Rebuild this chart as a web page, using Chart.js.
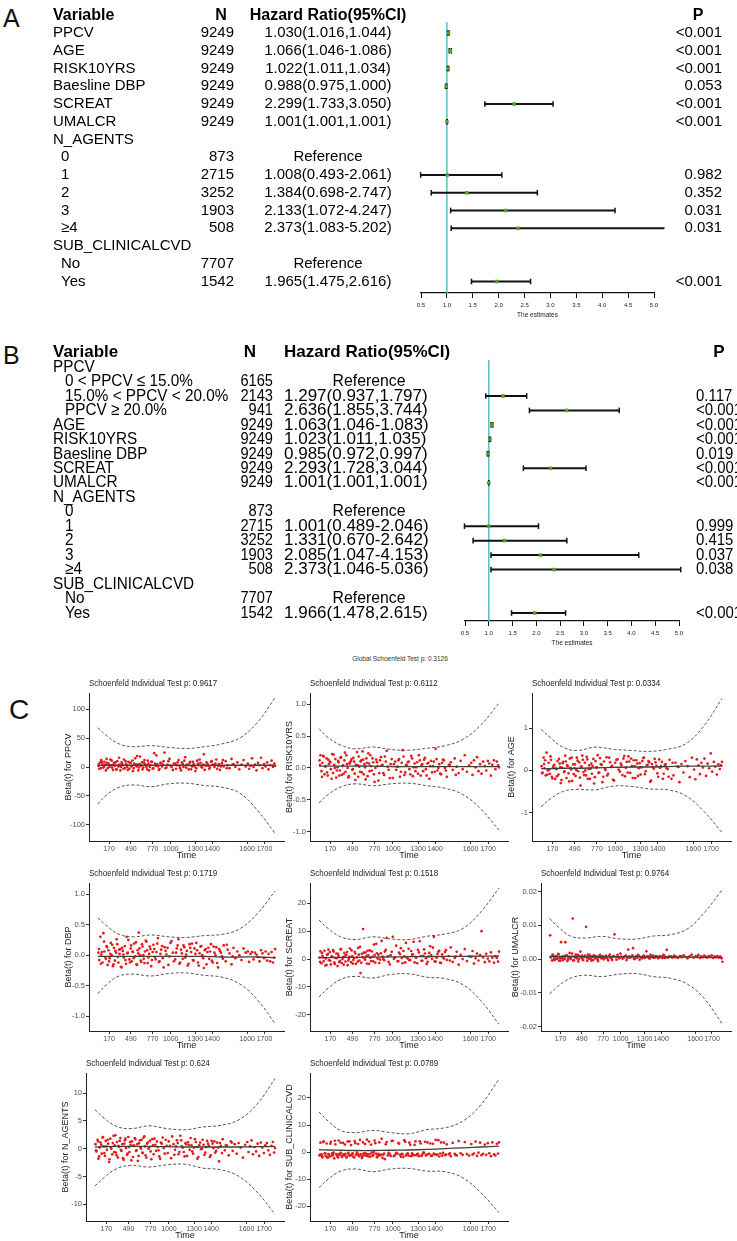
<!DOCTYPE html>
<html>
<head>
<meta charset="utf-8">
<script src="https://cdn.jsdelivr.net/npm/chart.js@4.4.1/dist/chart.umd.min.js"></script>
<style>
  body { margin: 0; background: #fff; width: 737px; height: 1241px; position: relative; overflow: hidden;
         font-family: 'Liberation Sans', Arial, sans-serif; color: #000; }
  canvas { position: absolute; }
  .panel { position: absolute; line-height: 1; color: #111; }
  .global { position: absolute; left: 300px; width: 200px; text-align: center; font-size: 6.5px; line-height: 1; color: #333; }
</style>
</head>
<body>
<div class="panel" style="left:3px;top:6px;font-size:25px">A</div>
<div class="panel" style="left:3px;top:343px;font-size:25px">B</div>
<div class="panel" style="left:9px;top:696px;font-size:28px">C</div>
<div class="global" style="top:656px">Global Schoenfeld Test p: 0.3126</div>

<canvas id="forestA" width="737" height="322" style="left:0;top:0"></canvas>
<canvas id="forestB" width="737" height="320" style="left:0;top:330px"></canvas>
<div id="resid"></div>

<script>
// ---------- Panel A: Cox model with continuous PPCV ----------
const varsA = ['PPCV', 'AGE', 'RISK10YRS', 'Baesline DBP', 'SCREAT', 'UMALCR', 'N_AGENTS', '0', '1', '2', '3', '≥4', 'SUB_CLINICALCVD', 'No', 'Yes'];
const levelA = [0, 0, 0, 0, 0, 0, 0, 1, 1, 1, 1, 1, 0, 1, 1];
const nA = ['9249', '9249', '9249', '9249', '9249', '9249', '', '873', '2715', '3252', '1903', '508', '', '7707', '1542'];
const hrTextA = ['1.030(1.016,1.044)', '1.066(1.046-1.086)', '1.022(1.011,1.034)', '0.988(0.975,1.000)', '2.299(1.733,3.050)',
  '1.001(1.001,1.001)', '', 'Reference', '1.008(0.493-2.061)', '1.384(0.698-2.747)', '2.133(1.072-4.247)',
  '2.373(1.083-5.202)', '', 'Reference', '1.965(1.475,2.616)'];
const pA = ['<0.001', '<0.001', '<0.001', '0.053', '<0.001', '<0.001', '', '', '0.982', '0.352', '0.031', '0.031', '', '', '<0.001'];
const hrA = [1.030, 1.066, 1.022, 0.988, 2.299, 1.001, null, null, 1.008, 1.384, 2.133, 2.373, null, null, 1.965];
const loA = [1.016, 1.046, 1.011, 0.975, 1.733, 1.001, null, null, 0.493, 0.698, 1.072, 1.083, null, null, 1.475];
const hiA = [1.044, 1.086, 1.034, 1.000, 3.050, 1.001, null, null, 2.061, 2.747, 4.247, 5.202, null, null, 2.616];

// ---------- Panel B: Cox model with PPCV groups ----------
const varsB = ['PPCV', '0 < PPCV ≤ 15.0%', '15.0% < PPCV < 20.0%', 'PPCV ≥ 20.0%', 'AGE', 'RISK10YRS', 'Baesline DBP', 'SCREAT',
  'UMALCR', 'N_AGENTS', '0', '1', '2', '3', '≥4', 'SUB_CLINICALCVD', 'No', 'Yes'];
const levelB = [0, 1, 1, 1, 0, 0, 0, 0, 0, 0, 1, 1, 1, 1, 1, 0, 1, 1];
const nB = ['', '6165', '2143', '941', '9249', '9249', '9249', '9249', '9249', '', '873', '2715', '3252', '1903', '508', '', '7707', '1542'];
const hrTextB = ['', 'Reference', '1.297(0.937,1.797)', '2.636(1.855,3.744)', '1.063(1.046-1.083)', '1.023(1.011,1.035)',
  '0.985(0.972,0.997)', '2.293(1.728,3.044)', '1.001(1.001,1.001)', '', 'Reference', '1.001(0.489-2.046)',
  '1.331(0.670-2.642)', '2.085(1.047-4.153)', '2.373(1.046-5.036)', '', 'Reference', '1.966(1.478,2.615)'];
const pB = ['', '', '0.117', '<0.001', '<0.001', '<0.001', '0.019', '<0.001', '<0.001', '', '', '0.999', '0.415', '0.037', '0.038', '', '', '<0.001'];
const hrB = [null, null, 1.297, 2.636, 1.063, 1.023, 0.985, 2.293, 1.001, null, null, 1.001, 1.331, 2.085, 2.373, null, null, 1.966];
const loB = [null, null, 0.937, 1.855, 1.046, 1.011, 0.972, 1.728, 1.001, null, null, 0.489, 0.670, 1.047, 1.046, null, null, 1.478];
const hiB = [null, null, 1.797, 3.744, 1.083, 1.035, 0.997, 3.044, 1.001, null, null, 2.046, 2.642, 4.153, 5.036, null, null, 2.615];

// ---------- Panel C: Schoenfeld residuals ----------
// event times on the km-transformed scale (0..1), shared by every covariate
const timeKm = [
  0.003, 0.008, 0.014, 0.019, 0.026, 0.031, 0.037, 0.042, 0.049, 0.055,
  0.06, 0.066, 0.073, 0.078, 0.085, 0.091, 0.096, 0.103, 0.109, 0.116,
  0.122, 0.127, 0.134, 0.141, 0.147, 0.152, 0.159, 0.166, 0.172, 0.178,
  0.185, 0.191, 0.198, 0.205, 0.211, 0.218, 0.224, 0.231, 0.238, 0.245,
  0.252, 0.259, 0.266, 0.274, 0.281, 0.289, 0.297, 0.305, 0.313, 0.322,
  0.33, 0.339, 0.348, 0.357, 0.366, 0.376, 0.387, 0.398, 0.41, 0.423,
  0.436, 0.445, 0.455, 0.464, 0.474, 0.483, 0.493, 0.502, 0.512, 0.521,
  0.531, 0.54, 0.55, 0.56, 0.569, 0.579, 0.589, 0.598, 0.608, 0.618,
  0.628, 0.638, 0.648, 0.658, 0.668, 0.678, 0.689, 0.7, 0.71, 0.721,
  0.732, 0.743, 0.754, 0.765, 0.776, 0.787, 0.798, 0.81, 0.822, 0.834,
  0.846, 0.853, 0.861, 0.87, 0.878, 0.886, 0.895, 0.903, 0.912, 0.921,
  0.929, 0.938, 0.946, 0.955, 0.963, 0.972, 0.98, 0.988, 0.995, 1.0,
  0.006, 0.017, 0.023, 0.035, 0.045, 0.052, 0.063, 0.07, 0.081, 0.088,
  0.099, 0.106, 0.113, 0.12, 0.13, 0.137, 0.144, 0.156, 0.163, 0.169,
  0.181, 0.188, 0.195, 0.202, 0.215, 0.221, 0.228, 0.235, 0.242, 0.249,
  0.256, 0.263, 0.27, 0.278, 0.285, 0.293, 0.301, 0.309, 0.318, 0.326,
  0.335, 0.344, 0.353, 0.362, 0.371, 0.382, 0.393, 0.404, 0.416, 0.429,
  0.441, 0.45, 0.46, 0.469, 0.479, 0.488, 0.498, 0.507, 0.517, 0.526,
  0.536, 0.545, 0.555, 0.565, 0.574, 0.584, 0.594, 0.603, 0.613, 0.623,
  0.633, 0.643, 0.653, 0.663, 0.673, 0.684, 0.694, 0.705, 0.727, 0.76];
const tickPos = [0.063, 0.186, 0.309, 0.411, 0.55, 0.645, 0.842, 0.94];
const tickTime = ['170', '490', '770', '1000', '1300', '1400', '1600', '1700'];
const bandX = [0, 0.05, 0.12, 0.2, 0.3, 0.4, 0.5, 0.6, 0.7, 0.8, 0.9, 1.0];

const resPPCV = [2, -3, 8, 12, 5, -1, 9, 4, 14, -2, 6, 0, 3, 11, -5, 7, 2, -4, 10, 1,
  4, -6, 8, 3, 13, -2, 5, 0, 9, -3, 7, 2, -7, 6, 15, 1, 4, -1, 18, 3,
  -4, 8, 5, 0, 11, -6, 3, 9, -2, 6, 20, 1, -3, 7, 4, 25, -1, 10, 2, -5,
  6, 3, 12, -2, 8, 0, 17, 4, -4, 9, 1, 5, -7, 11, 3, 7, -1, 22, 2, 6,
  -3, 9, 4, 0, 13, 2, -5, 7, 1, 10, 3, -2, 14, 5, 0, 8, -4, 4, 12, 1,
  6, -3, 2, 15, 0, 4, -6, 7, 3, 16, -2, 5, 1, 8, -4, 3, 11, 0, 6, 2,
  5, -2, 9, 1, -6, 7, 3, 13, -1, 4, 8, -4, 2, 16, 0, 6, -3, 10, 3, -5,
  7, 1, 11, -2, 4, 19, -6, 5, 2, 8, -1, 12, 3, -4, 6, 0, 9, -3, 24, 2,
  5, -5, 7, 1, 10, -2, 4, 14, 0, 6, -3, 8, 2, -6, 5, 11, -1, 3, 7, -4,
  9, 1, -2, 6, 13, 0, 4, -5, 8, 2, -1, 10, 3, 6, -3, 5, 1, 12, -2, 4];
const resRISK = [0.12, 0.2, -0.05, 0.08, 0.18, -0.1, 0.03, 0.15, -0.12, 0.06, 0.1, -0.02, 0.22, -0.08, 0.05, 0.14, -0.15, 0.01, 0.09, -0.04,
  0.17, -0.11, 0.04, 0.12, -0.06, 0.2, 0.0, -0.13, 0.07, 0.11, -0.03, 0.16, -0.09, 0.05, 0.25, -0.14, 0.02, 0.1, -0.07, 0.13,
  0.06, -0.18, 0.08, 0.23, -0.05, 0.03, 0.15, -0.1, 0.0, 0.09, -0.2, 0.12, 0.04, -0.08, 0.18, 0.27, -0.03, 0.06, -0.16, 0.1,
  0.02, 0.14, -0.06, 0.28, -0.11, 0.05, 0.09, -0.02, 0.19, -0.13, 0.07, 0.01, -0.09, 0.12, 0.04, -0.05, 0.16, -0.12, 0.08, 0.03,
  -0.07, 0.1, 0.3, -0.04, 0.06, -0.1, 0.13, 0.0, -0.14, 0.05, 0.09, -0.03, 0.15, 0.02, -0.08, 0.11, -0.02, 0.2, -0.06, 0.04,
  0.08, -0.11, 0.12, 0.01, 0.17, -0.05, 0.06, -0.09, 0.1, 0.03, -0.04, 0.11, 0.07, -0.12, 0.05, 0.12, -0.02, 0.1, 0.04, 0.01,
  0.05, -0.14, 0.19, 0.02, -0.07, 0.13, 0.09, -0.17, 0.21, 0.0, -0.04, 0.11, -0.12, 0.16, 0.03, -0.09, 0.24, 0.06, -0.15, 0.08,
  0.14, -0.02, 0.1, -0.19, 0.04, 0.18, -0.06, 0.12, 0.26, -0.1, 0.01, 0.15, -0.13, 0.07, 0.2, -0.04, 0.09, -0.22, 0.13, 0.03,
  -0.08, 0.17, 0.05, -0.11, 0.1, 0.02, -0.16, 0.14, 0.06, -0.03, 0.12, -0.14, 0.08, 0.18, -0.07, 0.04, 0.1, -0.1, 0.15, 0.01,
  -0.05, 0.09, 0.2, -0.12, 0.06, 0.13, -0.02, 0.07, -0.17, 0.11, 0.03, -0.06, 0.14, 0.0, -0.09, 0.08, 0.12, -0.04, 0.05, -0.11];
const resAGE = [0.1, -0.05, 0.3, 0.05, -0.12, 0.42, 0.0, 0.18, -0.08, 0.25, -0.15, 0.08, 0.13, -0.2, 0.03, 0.22, -0.1, 0.16, -0.3, 0.06,
  0.2, -0.04, 0.35, -0.18, 0.1, -0.07, 0.28, 0.02, -0.25, 0.14, 0.05, -0.13, 0.3, -0.02, 0.19, -0.36, 0.09, 0.25, -0.11, 0.0,
  0.32, -0.2, 0.12, 0.04, -0.08, 0.27, -0.16, 0.07, 0.36, -0.05, 0.15, -0.28, 0.21, 0.01, -0.12, 0.3, 0.08, -0.22, 0.18, 0.26,
  -0.03, 0.12, 0.28, -0.14, 0.2, 0.33, -0.06, 0.1, 0.24, -0.18, 0.16, 0.05, -0.1, 0.22, 0.3, -0.02, 0.13, 0.19, -0.24, 0.08,
  0.27, 0.11, -0.15, 0.06, 0.2, -0.08, 0.14, 0.03, 0.25, -0.2, -0.12, 0.18, 0.09, -0.28, 0.15, -0.05, 0.22, 0.1, -0.16, 0.3,
  0.02, -0.21, 0.26, 0.12, -0.09, 0.18, 0.07, 0.28, -0.13, 0.16, 0.05, 0.4, -0.03, 0.2, 0.09, -0.1, 0.14, 0.03, 0.12, 0.2,
  -0.07, 0.15, 0.24, -0.1, 0.02, 0.33, -0.19, 0.11, 0.05, -0.14, 0.27, 0.08, -0.23, 0.17, -0.02, 0.21, 0.12, -0.26, 0.06, 0.3,
  -0.09, 0.14, 0.01, 0.23, -0.17, 0.09, 0.35, -0.04, 0.18, -0.12, 0.26, 0.03, -0.2, 0.16, 0.1, -0.31, 0.22, 0.07, -0.06, 0.29,
  0.13, -0.15, 0.04, 0.31, -0.08, 0.19, 0.11, -0.24, 0.25, 0.02, 0.16, -0.11, 0.34, 0.06, -0.05, 0.21, 0.28, -0.18, 0.1, 0.24,
  -0.13, 0.17, 0.07, 0.29, -0.09, 0.12, 0.22, -0.27, 0.15, 0.04, 0.19, -0.07, 0.26, 0.1, -0.2, 0.13, 0.05, -0.15, 0.18, 0.08];
const resDBP = [0.04, -0.08, 0.3, 0.01, -0.12, 0.36, 0.06, -0.03, 0.15, -0.16, 0.08, -0.05, 0.2, 0.0, -0.18, 0.12, -0.09, 0.04, 0.18, -0.12,
  0.02, 0.1, -0.2, 0.07, -0.04, 0.15, -0.14, 0.03, 0.25, -0.07, 0.11, -0.1, 0.05, 0.19, -0.02, -0.15, 0.08, 0.37, 0.0, -0.11,
  0.14, -0.06, 0.06, 0.22, -0.13, 0.02, 0.1, -0.08, 0.17, -0.03, 0.05, 0.28, -0.1, 0.09, -0.05, 0.13, 0.01, -0.16, 0.2, 0.04,
  -0.07, 0.11, 0.26, -0.12, 0.03, 0.16, -0.04, 0.07, -0.14, 0.12, 0.19, -0.09, 0.02, 0.08, -0.17, 0.14, 0.0, -0.21, 0.1, 0.05,
  -0.06, 0.18, -0.12, 0.04, 0.13, -0.2, 0.07, -0.02, 0.16, -0.1, 0.09, 0.03, -0.15, 0.12, -0.05, 0.06, 0.0, -0.08, 0.11, 0.04,
  0.06, -0.11, 0.02, 0.05, -0.07, 0.04, 0.01, -0.03, -0.1, 0.08, 0.03, -0.05, 0.06, -0.09, 0.02, -0.1, 0.05, -0.12, -0.04, 0.1,
  0.1, -0.14, 0.05, 0.22, -0.06, 0.13, -0.1, 0.02, 0.17, -0.15, 0.07, 0.26, -0.03, 0.09, -0.19, 0.12, 0.01, -0.08, 0.3, 0.04,
  -0.12, 0.16, 0.06, -0.05, 0.21, -0.16, 0.03, 0.11, -0.09, 0.18, 0.0, -0.13, 0.24, 0.08, -0.04, 0.14, -0.18, 0.05, 0.1, -0.07,
  0.19, -0.11, 0.02, 0.15, -0.2, 0.07, 0.12, -0.02, 0.23, -0.1, 0.04, 0.16, -0.14, 0.09, -0.06, 0.13, 0.01, -0.17, 0.18, 0.05,
  -0.08, 0.11, 0.2, -0.12, 0.03, 0.15, -0.05, 0.08, -0.15, 0.12, 0.06, -0.09, 0.14, 0.0, -0.13, 0.1, 0.04, -0.06, 0.17, -0.02];
const resSCREAT = [0.5, 2.8, -1.5, 1.2, -0.8, 3.0, 0.2, -2.1, 1.8, -0.4, 2.5, -1.9, 0.9, 3.2, -1.2, 0.4, 2.0, -2.5, 1.1, -0.6,
  3.5, -1.4, 0.7, 2.2, -0.9, 1.5, -2.2, 0.1, 3.8, -1.1, 1.0, -0.3, 2.6, -1.7, 0.6, 4.0, -0.5, -5.0, 1.9, 10.8,
  0.3, 2.4, -1.6, 1.3, 3.1, -0.7, 0.8, 5.2, -1.3, 2.1, 1.6, -0.2, 6.5, 0.0, 2.7, 7.6, -1.0, 1.4, 8.0, 0.6,
  -0.8, 2.3, 3.9, -1.5, 1.0, 5.8, 0.2, -0.4, 2.9, 1.7, -1.2, 0.5, 3.3, 6.4, -0.6, 1.2, 2.0, -1.8, 0.9, 4.6,
  0.1, 8.0, -0.9, 1.8, 3.0, -1.4, 0.7, 2.5, -0.3, 1.1, 4.2, -1.0, 0.4, 2.6, -2.0, 1.5, 0.0, 3.6, -0.7, 1.0,
  0.8, 2.9, -1.6, 0.3, 2.0, -0.5, 1.4, 10.0, 0.6, -1.1, 1.9, 0.2, -0.8, 2.4, 0.5, -1.3, 1.0, 0.4, -0.9, 2.7,
  -1.0, 2.2, 0.6, -2.3, 1.5, 3.4, -0.6, 0.9, 2.7, -1.8, 0.3, 1.9, -1.1, 3.6, 0.0, -2.0, 1.2, 2.5, -0.5, 0.8,
  3.1, -1.6, 0.4, 2.0, -0.9, 1.6, 4.4, -1.3, 0.7, 2.3, -0.2, 1.1, 3.0, -1.7, 0.5, 2.8, -0.8, 1.4, 5.5, 0.2,
  -1.4, 2.1, 0.9, -0.4, 3.3, 1.0, -1.9, 2.6, 0.1, 4.8, -0.7, 1.8, 0.4, 2.9, -1.2, 0.6, 3.7, -0.3, 1.5, 6.2,
  0.8, -1.5, 2.4, 1.1, -0.6, 3.5, 0.3, -1.0, 2.2, 1.3, 4.1, -0.8, 0.5, 2.6, -1.3, 1.7, 0.2, 3.2, -0.5, 1.0];
const resUMALCR = [0.007, 0.0006, -0.0004, 0.0012, 0.0003, -0.0002, 0.0009, 0.0001, 0.0015, -0.0005,
  0.0004, 0.005, 0.0002, -0.0003, 0.0008, 0.005, 0.0011, -0.0006, 0.0003, 0.0018,
  0.0, 0.0007, 0.012, -0.0004, 0.0005, 0.0013, 0.0002, -0.0007, 0.0009, 0.0022,
  0.0003, -0.0002, 0.0006, 0.001, 0.0095, -0.0005, 0.0004, 0.0012, 0.0001, 0.0007,
  -0.0003, 0.0009, 0.0002, 0.0005, -0.0006, 0.0011, 0.0003, 0.0008, -0.0001, 0.0006,
  0.0004, -0.0004, 0.0013, 0.0002, 0.0007, 0.0073, -0.0002, 0.0005, 0.0016, 0.0001,
  0.0008, -0.0003, 0.0028, 0.0004, 0.0006, 0.0032, 0.0, 0.0009, 0.0012, -0.0002,
  0.0005, 0.0007, 0.0003, 0.0023, 0.0008, 0.0001, 0.0006, 0.001, 0.0004, 0.0007,
  0.0002, 0.0009, 0.0005, 0.0012, 0.0003, 0.0027, 0.0006, 0.0008, 0.0004, 0.001,
  0.0007, 0.0003, 0.0009, 0.0005, 0.0011, 0.0006, 0.0002, 0.0008, 0.0013, 0.0004,
  0.0009, 0.0006, 0.0012, 0.0003, 0.0008, 0.0005, 0.001, 0.0007, 0.0004, 0.0009,
  0.0006, 0.0011, 0.0003, 0.0008, 0.0005, 0.0009, 0.0004, 0.0007, 0.0002, -0.0008,
  0.0005, 0.0012, -0.0003, 0.0008, 0.0002, 0.0014, -0.0005, 0.0006, 0.0009, 0.0001,
  0.0011, -0.0002, 0.0007, 0.0004, 0.0016, -0.0004, 0.0008, 0.0003, 0.0012, 0.0,
  0.0006, 0.001, -0.0003, 0.0007, 0.0004, 0.0013, 0.0001, 0.0009, -0.0005, 0.0006,
  0.0011, 0.0003, 0.0008, -0.0002, 0.0005, 0.0012, 0.0002, 0.0007, 0.0004, 0.001,
  0.0001, 0.0008, 0.0005, -0.0003, 0.0009, 0.0006, 0.0012, 0.0002, 0.0007, 0.0004,
  0.001, 0.0003, 0.0008, 0.0005, 0.0011, 0.0001, 0.0007, 0.0004, 0.0009, 0.0006,
  0.0002, 0.001, 0.0005, 0.0008, 0.0003, 0.0012, 0.0006, 0.0004, 0.0009, 0.0007,
  0.0005, 0.0008, 0.0003, 0.0011, 0.0006, 0.0004, 0.0009, 0.0007, 0.0005, 0.0008];
const resNAG = [0.8, -0.5, 1.6, -1.8, 0.2, 1.1, -0.9, 2.0, 0.4, -1.3, 1.4, -0.2, 0.9, -2.4, 1.8, 0.0, -1.0, 2.3, 0.6, -0.7,
  1.2, -1.6, 0.3, 1.9, -0.4, 0.8, -2.0, 1.5, 0.1, -1.1, 2.1, -0.6, 0.7, 1.3, -1.5, 0.5, 1.7, -0.3, -2.2, 1.0,
  0.2, 1.6, -0.8, 2.2, -1.2, 0.9, 0.0, 1.4, -1.9, 0.6, 1.8, -0.4, 0.3, -1.4, 1.1, 2.0, -0.9, 0.5, 1.3, -1.7,
  0.8, -0.2, 1.5, -1.0, 2.3, 0.4, -0.6, 1.0, -1.3, 0.7, 1.9, -0.5, 0.2, 1.2, -1.8, 0.6, -0.1, 1.6, -1.1, 0.3,
  0.9, -1.5, 1.4, 0.1, -0.7, 1.1, -2.3, 0.5, 1.7, -0.3, 0.6, -1.2, 1.3, -0.4, 0.8, -0.9, 1.0, 0.2, -1.6, 0.7,
  1.2, -0.6, 0.4, 1.5, -1.0, 0.3, -0.5, 0.9, -1.3, 1.1, 0.2, -0.8, 0.6, 1.0, -0.3, -1.1, 0.5, 1.2, -0.7, 0.1,
  -0.3, 1.3, -1.4, 0.7, 2.1, -0.8, 0.4, 1.6, -1.9, 0.1, 1.0, -0.6, 2.4, -1.2, 0.5, 1.4, -0.2, -1.7, 0.9, 1.8,
  -0.9, 0.3, 1.2, -2.1, 0.6, 1.9, -0.4, 0.8, -1.3, 1.5, 0.0, -0.7, 2.0, 0.4, -1.6, 1.1, 0.2, -0.5, 1.7, -1.0,
  0.7, 1.3, -0.3, -1.8, 0.9, 0.1, 1.6, -0.8, 0.5, 2.2, -1.1, 0.4, 1.0, -0.6, 1.5, 0.2, -1.4, 0.8, 1.2, -0.2,
  0.6, -0.9, 1.7, 0.3, -1.5, 1.1, 0.0, 0.7, -0.7, 1.4, 0.5, -1.2, 0.9, 1.3, -0.4, 0.2, 1.0, -0.8, 0.6, 1.1];
const resSUB = [-1.2, 3.5, -0.8, -1.9, 4.0, -0.5, -1.4, 3.2, -2.1, -0.9, -1.6, 3.8, -0.4, -1.1, -2.3, 2.9, -0.7, -1.5, 4.3, -1.0,
  -0.3, -1.8, 3.4, -1.2, -0.6, -2.0, 3.9, -0.9, -1.3, 2.6, -0.5, -1.7, 4.1, -1.0, -0.2, 3.0, -1.5, -0.8, -2.2, 3.6,
  -1.1, -0.4, 4.6, -1.6, -0.7, 2.8, -1.3, -0.1, 3.3, -1.9, -0.6, -1.2, 4.9, -0.9, -2.6, 3.7, -0.3, -1.4, 4.2, -1.0,
  -0.5, 3.1, -1.7, -0.8, 4.4, -1.2, -0.4, 3.5, -1.5, -0.9, 2.7, -1.1, -0.6, 4.0, -1.4, -0.2, 3.8, -1.0, -0.7, 3.2,
  -1.3, -0.5, 4.5, -0.9, -1.6, 3.6, -0.3, -1.1, 2.9, -0.8, -1.5, 3.4, -0.6, -1.2, 4.1, -0.4, -1.0, 3.7, -0.7, -1.3,
  3.0, -0.9, -0.5, 3.9, -1.4, -0.2, 3.5, -1.1, -0.6, 2.8, -1.0, 3.3, -0.4, -1.5, 3.6, -0.8, -1.2, 3.1, -0.5, 3.6,
  -0.9, -1.5, 3.7, -0.4, -1.8, -0.7, 3.1, -1.3, -0.2, 4.2, -1.0, -2.0, -0.6, 3.5, -1.4, -0.8, 2.8, -1.6, -0.3, 4.0,
  -1.1, -0.5, -1.9, 3.3, -0.7, -1.2, 4.5, -0.9, -1.6, -0.4, 3.0, -1.3, -0.8, 3.9, -1.7, -0.2, -1.1, 4.3, -0.6, -1.4,
  3.6, -0.9, -2.1, -0.5, 2.9, -1.2, -0.7, 4.1, -1.5, -0.3, 3.4, -1.0, -0.6, -1.8, 3.8, -0.8, -1.3, 2.7, -0.4, -1.1,
  4.0, -0.7, -1.5, 3.2, -0.9, -0.3, -1.2, 3.6, -0.6, -1.4, 3.1, -0.8, -1.0, 4.4, -0.5, -1.3, 3.5, -0.9, -0.4, -1.1];

// smoothed beta(t) and its dashed confidence limits at bandX
const fitPPCV = [2.5, 3, 3, 3, 3, 3, 3, 3, 3, 3, 3, 3];
const upPPCV = [68, 54, 40, 35, 37, 34, 32, 35, 40, 50, 77, 120];
const loPPCV = [-64, -48, -35, -31, -34, -29, -28, -32, -35, -45, -75, -115];
const fitRISK = [0.03, 0.03, 0.03, 0.03, 0.03, 0.02, 0.02, 0.02, 0.02, 0.02, 0.02, 0.02];
const upRISK = [0.62, 0.48, 0.36, 0.3, 0.33, 0.29, 0.28, 0.31, 0.35, 0.45, 0.68, 1.02];
const loRISK = [-0.55, -0.42, -0.3, -0.25, -0.28, -0.25, -0.24, -0.28, -0.32, -0.42, -0.65, -0.98];
const fitAGE = [0.04, 0.04, 0.05, 0.05, 0.06, 0.07, 0.08, 0.08, 0.09, 0.1, 0.1, 0.1];
const upAGE = [0.97, 0.78, 0.55, 0.47, 0.55, 0.5, 0.47, 0.45, 0.5, 0.63, 1.05, 1.7];
const loAGE = [-0.86, -0.68, -0.5, -0.45, -0.46, -0.37, -0.38, -0.44, -0.46, -0.6, -0.97, -1.47];
const fitDBP = [-0.02, -0.02, -0.02, -0.02, -0.02, -0.02, -0.02, -0.02, -0.03, -0.03, -0.03, -0.04];
const upDBP = [0.61, 0.48, 0.34, 0.3, 0.33, 0.3, 0.29, 0.32, 0.34, 0.43, 0.68, 1.05];
const loDBP = [-0.63, -0.48, -0.34, -0.31, -0.34, -0.3, -0.29, -0.33, -0.36, -0.47, -0.73, -1.12];
const fitSCREAT = [0.5, 0.55, 0.6, 0.65, 0.7, 0.8, 0.85, 0.9, 0.95, 1.0, 1.05, 1.1];
const upSCREAT = [14, 11, 8, 7, 8, 7.2, 7, 8.2, 9, 11, 17, 25.5];
const loSCREAT = [-13.6, -10.5, -7.3, -6.2, -6.8, -5.5, -5.3, -6.5, -7, -9.2, -15, -23.4];
const fitUMALCR = [0.0008, 0.0008, 0.0007, 0.0007, 0.0007, 0.0007, 0.0007, 0.0006, 0.0006, 0.0006, 0.0005, 0.0005];
const upUMALCR = [0.012, 0.0095, 0.0068, 0.0062, 0.0067, 0.006, 0.0059, 0.0068, 0.0072, 0.009, 0.014, 0.0206];
const loUMALCR = [-0.0103, -0.008, -0.0057, -0.0048, -0.0052, -0.0045, -0.0043, -0.0052, -0.0057, -0.0075, -0.012, -0.0193];
const fitNAG = [0.3, 0.35, 0.4, 0.4, 0.4, 0.35, 0.3, 0.3, 0.3, 0.3, 0.35, 0.4];
const upNAG = [7, 5.5, 4, 3.6, 4.1, 3.6, 3.4, 3.9, 4.2, 5.2, 8, 12.6];
const loNAG = [-6.7, -5.2, -3.6, -3.0, -3.3, -2.9, -2.8, -3.5, -3.8, -5, -7.8, -11.8];
const fitSUB = [0.9, 0.8, 0.7, 0.6, 0.6, 0.7, 0.8, 1.0, 1.3, 1.6, 1.9, 2.2];
const upSUB = [14.8, 11.5, 8, 7.2, 8, 7.2, 6.8, 8.3, 9, 11.5, 17.5, 27];
const loSUB = [-13.1, -10, -7, -6.2, -7.2, -6.2, -6, -7, -7.2, -9.5, -15, -22.3];

const covNames = ['PPCV', 'RISK10YRS', 'AGE', 'DBP', 'SCREAT', 'UMALCR', 'N_AGENTS', 'SUB_CLINICALCVD'];
const testP = ['0.9617', '0.6112', '0.0334', '0.1719', '0.1518', '0.9764', '0.624', '0.0789'];

const FONT = "'Liberation Sans', Arial, sans-serif";
Chart.defaults.font.family = FONT;
Chart.defaults.color = '#222';

// ---------- forest plots ----------
function forestTable(d, L) {
  return {
    id: 'forestTable',
    afterDraw(chart) {
      const ctx = chart.ctx, ys = chart.scales.y;
      // some columns are squeezed a little horizontally (sx) like the original figure
      const put = (t, x, y, align, sx) => {
        ctx.save();
        ctx.translate(x, y);
        ctx.scale(sx, 1);
        ctx.textAlign = align;
        ctx.fillText(t, 0, 0);
        ctx.restore();
      };
      ctx.save();
      ctx.fillStyle = '#000';
      ctx.textBaseline = 'middle';
      const hy = ys.getPixelForValue(-1);
      ctx.font = 'bold ' + L.headSize + 'px ' + FONT;
      put('Variable', L.varX, hy, 'left', 1);
      put('N', L.nHeadX, hy, 'center', 1);
      put('Hazard Ratio(95%CI)', L.hrHeadX, hy, L.hrAlign === 'center' ? 'center' : 'left', 1);
      put('P', L.pHeadX, hy, 'center', 1);
      ctx.font = L.size + 'px ' + FONT;
      d.vars.forEach((v, i) => {
        const y = ys.getPixelForValue(i);
        put(v, d.level[i] ? L.subX : L.varX, y, 'left', L.sxVar);
        put(d.n[i], L.nRight, y, 'right', L.sxN);
        if (d.hrText[i] === 'Reference') put('Reference', L.refX, y, 'center', L.sxRef);
        else put(d.hrText[i], L.hrX, y, L.hrAlign, 1);
        put(d.p[i], L.pX, y, L.pAlign, L.sxP);
      });
      ctx.restore();
    }
  };
}

function drawForest(id, d, L) {
  const yMax = (L.axisY - L.row0) / L.pitch;
  const ci = [], caps = [], est = [];
  d.hr.forEach((v, i) => {
    if (v == null) return;
    ci.push({ x: d.lo[i], y: i }, { x: d.hi[i], y: i }, { x: null, y: null });
    caps.push({ x: d.lo[i], y: i }, { x: d.hi[i], y: i });
    est.push({ x: v, y: i });
  });
  const canvas = document.getElementById(id);
  new Chart(canvas, {
    type: 'scatter',
    data: {
      datasets: [
        { data: est, pointStyle: 'rect', pointRadius: 2.5, pointBackgroundColor: '#55a02d', pointBorderWidth: 0, clip: false },
        { data: caps, pointStyle: 'line', rotation: 90, pointRadius: 2.8, pointBorderColor: '#111', pointBorderWidth: 1.5, clip: false },
        { data: ci, showLine: true, spanGaps: false, borderColor: '#111', borderWidth: 2, pointRadius: 0, clip: false },
        { data: [{ x: 1, y: L.refTop }, { x: 1, y: yMax }], showLine: true, borderColor: '#5bbfcd', borderWidth: 1.5, pointRadius: 0, clip: false }
      ]
    },
    options: {
      responsive: false, animation: false, events: [], devicePixelRatio: 1,
      layout: { padding: { left: L.x05, right: 737 - L.x5, top: L.row0 - L.pitch - L.top, bottom: 0 }, autoPadding: false },
      scales: {
        x: {
          type: 'linear', min: 0.5, max: 5, position: 'bottom',
          afterFit: s => { s.height = canvas.height - (L.axisY - L.top); },
          border: { display: true, color: '#111', width: 1.3 },
          grid: { drawOnChartArea: false, drawTicks: true, tickLength: 5, color: '#111', lineWidth: 1 },
          ticks: { stepSize: 0.5, font: { size: 6 }, color: '#222', padding: 4, maxRotation: 0, autoSkip: false },
          title: { display: true, text: 'The estimates', font: { size: 6.5 }, color: '#222', padding: { top: 0, bottom: 3 } }
        },
        y: { type: 'linear', display: false, reverse: true, min: -1, max: yMax }
      },
      plugins: { legend: { display: false }, tooltip: { enabled: false } }
    },
    plugins: [forestTable(d, L)]
  });
}

drawForest('forestA',
  { vars: varsA, level: levelA, n: nA, hrText: hrTextA, p: pA, hr: hrA, lo: loA, hi: hiA },
  { top: 0, row0: 33, pitch: 17.75, axisY: 293, x05: 421, x5: 654, refTop: -0.62,
    sxVar: 1, sxN: 1, sxRef: 1, sxP: 1,
    size: 15, headSize: 16, varX: 53, subX: 61, nRight: 234, nHeadX: 221,
    hrX: 328, hrHeadX: 328, hrAlign: 'center', refX: 328, pX: 722, pAlign: 'right', pHeadX: 698 });

drawForest('forestB',
  { vars: varsB, level: levelB, n: nB, hrText: hrTextB, p: pB, hr: hrB, lo: loB, hi: hiB },
  { top: 330, row0: 367, pitch: 14.47, axisY: 621, x05: 465, x5: 679, refTop: -0.5,
    sxVar: 0.9, sxN: 0.86, sxRef: 0.93, sxP: 0.88,
    size: 17, headSize: 17, varX: 53, subX: 65, nRight: 273, nHeadX: 250,
    hrX: 284, hrHeadX: 284, hrAlign: 'left', refX: 369, pX: 696, pAlign: 'left', pHeadX: 719 });

// ---------- Schoenfeld residual plots ----------
const residSets = [
  [resPPCV, fitPPCV, upPPCV, loPPCV], [resRISK, fitRISK, upRISK, loRISK], [resAGE, fitAGE, upAGE, loAGE],
  [resDBP, fitDBP, upDBP, loDBP], [resSCREAT, fitSCREAT, upSCREAT, loSCREAT], [resUMALCR, fitUMALCR, upUMALCR, loUMALCR],
  [resNAG, fitNAG, upNAG, loNAG], [resSUB, fitSUB, upSUB, loSUB]
];
// axis placement and y range of each small panel (yw = width kept for the y axis)
const residAxes = [
  { axisX: 89, right: 284, row: 0, yw: 30, min: -128, max: 128, step: 50, dec: 0 },
  { axisX: 310, right: 508, row: 0, yw: 30, min: -1.15, max: 1.18, step: 0.5, dec: 1 },
  { axisX: 532, right: 731, row: 0, yw: 30, min: -1.67, max: 1.83, step: 1, dec: 0 },
  { axisX: 89, right: 284, row: 1, yw: 30, min: -1.24, max: 1.18, step: 0.5, dec: 1 },
  { axisX: 310, right: 508, row: 1, yw: 30, min: -25.8, max: 27.3, step: 10, dec: 0 },
  { axisX: 541, right: 731, row: 1, yw: 35, min: -0.0213, max: 0.0225, step: 0.01, dec: 2 },
  { axisX: 86, right: 284, row: 2, yw: 30, min: -13.0, max: 13.6, step: 5, dec: 0 },
  { axisX: 310, right: 508, row: 2, yw: 30, min: -25.4, max: 29.2, step: 10, dec: 0 }
];

function panelTitle(text) {
  return {
    id: 'panelTitle',
    afterDraw(chart) {
      const ctx = chart.ctx;
      ctx.save();
      ctx.font = '9.5px ' + FONT;
      ctx.fillStyle = '#222';
      ctx.textAlign = 'left';
      ctx.textBaseline = 'middle';
      ctx.translate(chart.chartArea.left, 10);
      ctx.scale(0.84, 1);
      ctx.fillText(text, 0, 0);
      ctx.restore();
    }
  };
}

const host = document.getElementById('resid');
residSets.forEach(([res, fit, up, lo], k) => {
  const A = residAxes[k];
  const canvas = document.createElement('canvas');
  const w = A.yw + (A.right - A.axisX) + 4;
  canvas.width = w; canvas.height = 190;
  canvas.style.left = (A.axisX - A.yw) + 'px';
  canvas.style.top = (673 + A.row * 190) + 'px';
  host.appendChild(canvas);
  const pts = timeKm.map((t, i) => ({ x: t, y: res[i] }));
  const curve = arr => bandX.map((x, i) => ({ x: x, y: arr[i] }));
  new Chart(canvas, {
    type: 'scatter',
    data: {
      datasets: [
        { data: curve(fit), showLine: true, borderColor: '#404040', borderWidth: 1.3, pointRadius: 0, tension: 0.4 },
        { data: curve(up), showLine: true, borderColor: '#555', borderWidth: 1, borderDash: [3, 2], pointRadius: 0, tension: 0.4 },
        { data: curve(lo), showLine: true, borderColor: '#555', borderWidth: 1, borderDash: [3, 2], pointRadius: 0, tension: 0.4 },
        { data: pts, pointRadius: 1.35, pointBackgroundColor: '#e31a1c', pointBorderWidth: 0 }
      ]
    },
    options: {
      responsive: false, animation: false, events: [], devicePixelRatio: 1,
      layout: { padding: { left: 0, right: 4, top: 20, bottom: 0 }, autoPadding: false },
      scales: {
        x: {
          type: 'linear', min: -0.05, max: 1.05,
          afterBuildTicks: s => { s.ticks = tickPos.map(v => ({ value: v })); },
          afterFit: s => { s.height = 22; },
          ticks: { callback: (v, i) => tickTime[i], font: { size: 7 }, color: '#4d4d4d', padding: 1, maxRotation: 0, autoSkip: false },
          grid: { drawOnChartArea: false, tickLength: 3, color: '#333' },
          border: { color: '#222', width: 1 },
          title: { display: true, text: 'Time', font: { size: 9 }, color: '#222', padding: { top: 0, bottom: 2 } }
        },
        y: {
          type: 'linear', min: A.min, max: A.max,
          afterFit: s => { s.width = A.yw; },
          ticks: { stepSize: A.step, includeBounds: false, callback: v => Number(v).toFixed(A.dec), font: { size: 7.5 }, color: '#4d4d4d', padding: 1 },
          grid: { drawOnChartArea: false, tickLength: 3, color: '#333' },
          border: { color: '#222', width: 1 },
          title: { display: true, text: 'Beta(t) for ' + covNames[k], font: { size: 9 }, color: '#222', padding: { top: 4, bottom: 2 } }
        }
      },
      plugins: { legend: { display: false }, tooltip: { enabled: false } }
    },
    plugins: [panelTitle('Schoenfeld Individual Test p: ' + testP[k])]
  });
});
</script>
</body>
</html>
